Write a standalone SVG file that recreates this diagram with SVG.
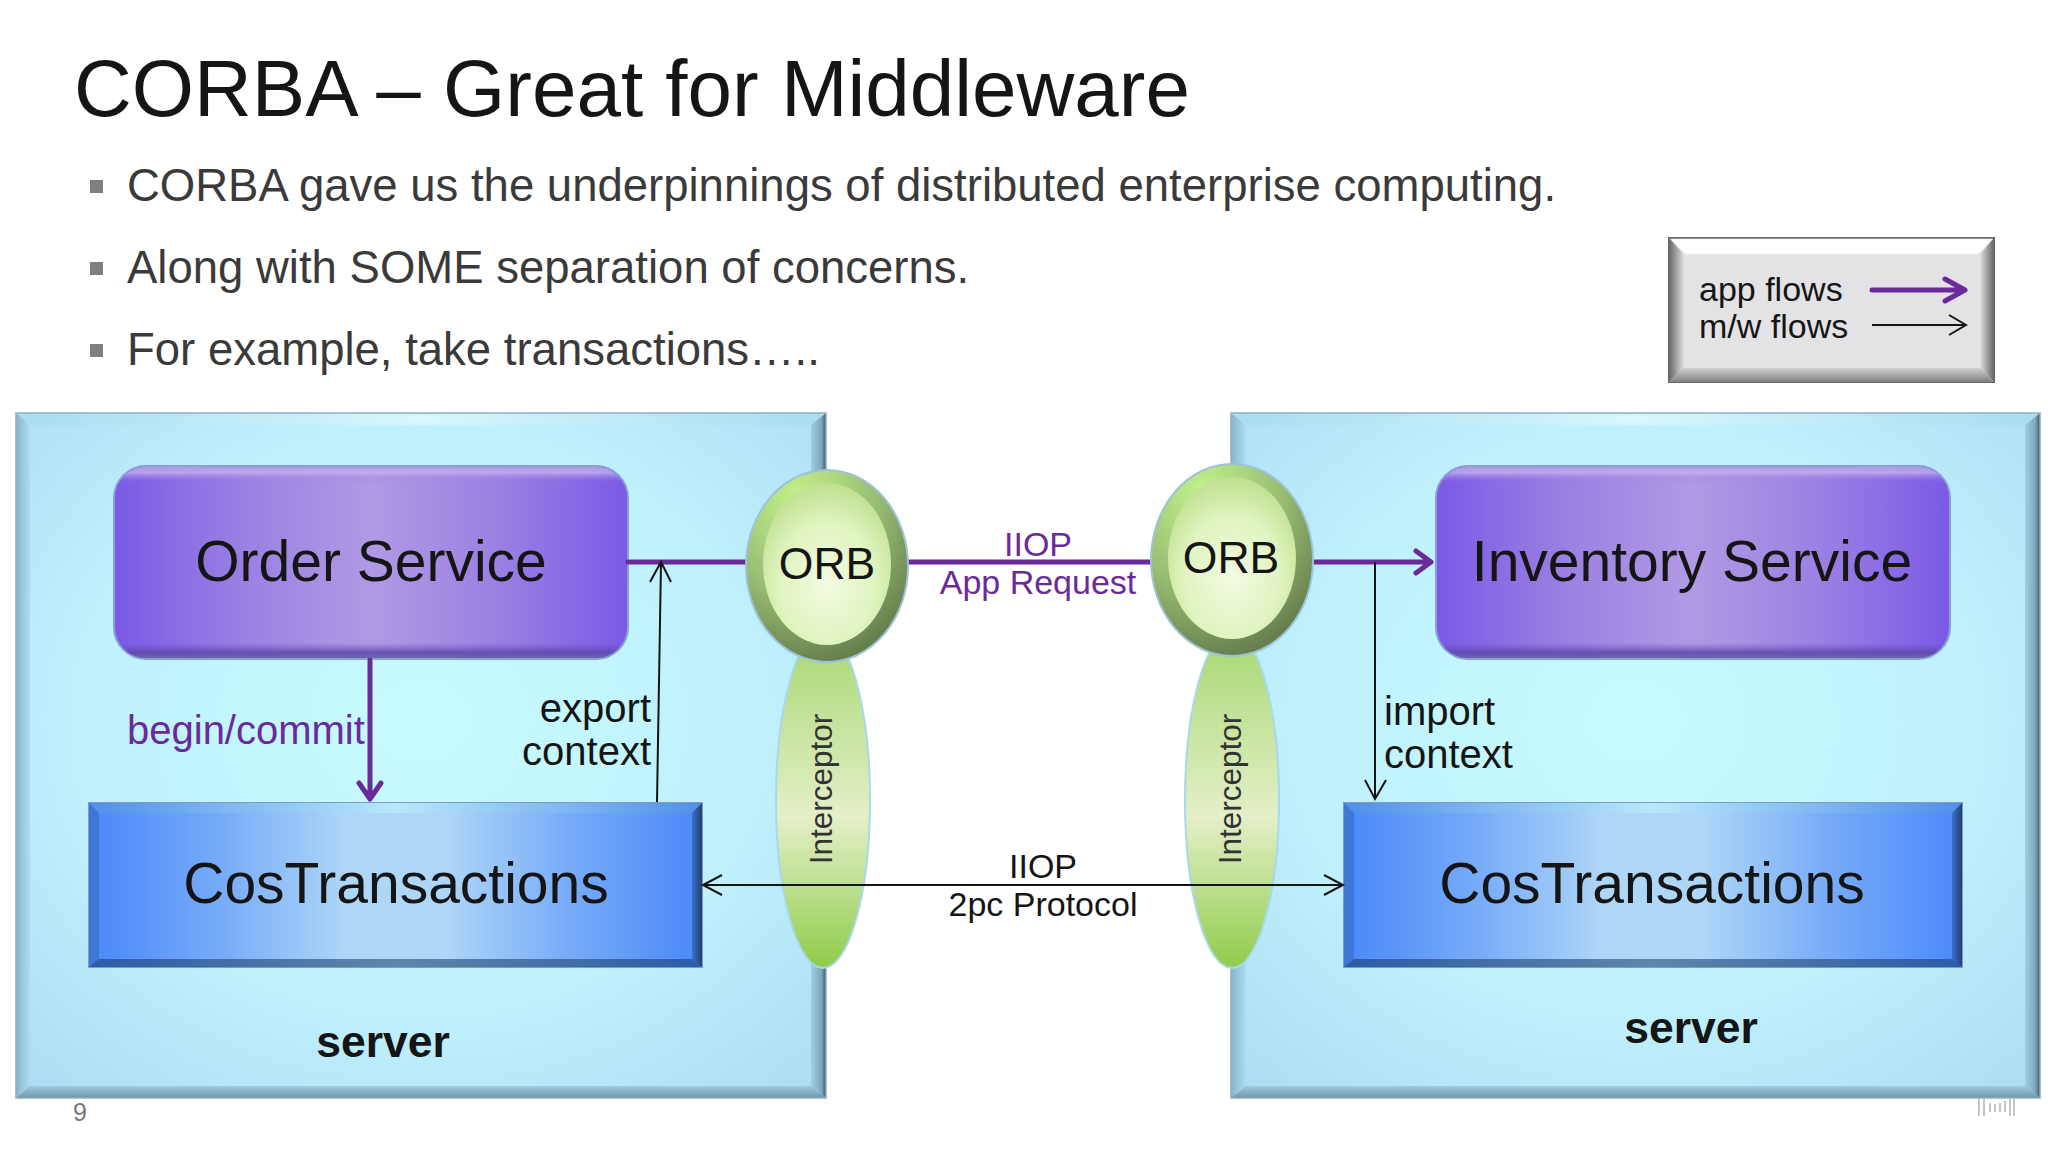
<svg xmlns="http://www.w3.org/2000/svg" width="2048" height="1152" viewBox="0 0 2048 1152">
<style>
text{font-family:"Liberation Sans",Arial,sans-serif;fill:#151515}
.m{text-anchor:middle}
.e{text-anchor:end}
.p{fill:#6b2a9a}
.blt{font-size:45.5px;fill:#3a3a3a}
.svc{font-size:57px}
.lb{font-size:40px}
.srv{font-size:44.5px;font-weight:bold}
.orb{font-size:44.5px}
.ic{font-size:31.5px;fill:#333}
.pl{fill:none;stroke:#6b2a9a;stroke-width:5;stroke-linecap:round;stroke-linejoin:round}
.bk{fill:none;stroke:#151515;stroke-width:2}
.sq{fill:#7f7f7f}
.soft{filter:url(#blur)}
</style>
<defs>
<filter id="blur" x="-5%" y="-5%" width="110%" height="110%"><feGaussianBlur stdDeviation="1"/></filter>
<radialGradient id="srvR" cx=".5" cy=".45" r=".72"><stop offset="0" stop-color="#c8fcff"/><stop offset=".6" stop-color="#bff0fc"/><stop offset="1" stop-color="#aedcf4"/></radialGradient>
<linearGradient id="svcG" x1="0" x2="1" y1="0" y2="0"><stop offset="0" stop-color="#7a5ae6"/><stop offset=".25" stop-color="#9a80e2"/><stop offset=".5" stop-color="#b09ae4"/><stop offset=".75" stop-color="#9a80e2"/><stop offset="1" stop-color="#7a5ae6"/></linearGradient>
<linearGradient id="svcE" x1="0" x2="0" y1="0" y2="1"><stop offset="0" stop-color="#a99ce0"/><stop offset=".03" stop-color="#c4b2f0" stop-opacity=".8"/><stop offset=".08" stop-color="#8f70e2" stop-opacity="0"/><stop offset=".92" stop-color="#6f4fc4" stop-opacity="0"/><stop offset=".97" stop-color="#5a43a8" stop-opacity=".8"/><stop offset="1" stop-color="#6a6aa8"/></linearGradient>
<linearGradient id="cosG" x1="0" x2="1" y1="0" y2="0"><stop offset="0" stop-color="#4a88fa"/><stop offset=".22" stop-color="#78acf8"/><stop offset=".42" stop-color="#aed6f6"/><stop offset=".58" stop-color="#aed6f6"/><stop offset=".78" stop-color="#78acf8"/><stop offset="1" stop-color="#4a88fa"/></linearGradient>
<linearGradient id="cT" x1="0" x2="1" y1="0" y2="0"><stop offset="0" stop-color="#4f8fe8"/><stop offset=".5" stop-color="#b8e8fb"/><stop offset="1" stop-color="#4f8fe8"/></linearGradient>
<linearGradient id="cB" x1="0" x2="1" y1="0" y2="0"><stop offset="0" stop-color="#2b5ba8"/><stop offset=".5" stop-color="#5f86aa"/><stop offset="1" stop-color="#2b5ba8"/></linearGradient>
<radialGradient id="orbO" cx=".32" cy=".15" r="1"><stop offset="0" stop-color="#c2f28c"/><stop offset=".5" stop-color="#97bc72"/><stop offset="1" stop-color="#566a40"/></radialGradient>
<radialGradient id="orbI" cx=".5" cy=".62" r=".62"><stop offset="0" stop-color="#f2fbe2"/><stop offset=".6" stop-color="#e0f4c0"/><stop offset="1" stop-color="#bfe08f"/></radialGradient>
<linearGradient id="icG" x1="0" x2="0" y1="0" y2="1"><stop offset="0" stop-color="#a6d872"/><stop offset=".55" stop-color="#e4efc8"/><stop offset="1" stop-color="#8fcc4a"/></linearGradient>
<linearGradient id="lgG" x1="0" x2="1" y1="0" y2="0"><stop offset="0" stop-color="#666"/><stop offset="1" stop-color="#e0e0e0"/></linearGradient>
<linearGradient id="lgR" x1="0" x2="1" y1="0" y2="0"><stop offset="0" stop-color="#e0e0e0"/><stop offset="1" stop-color="#666"/></linearGradient>
<linearGradient id="lgB" x1="0" x2="0" y1="0" y2="1"><stop offset="0" stop-color="#cfcfcf"/><stop offset="1" stop-color="#808080"/></linearGradient>
<linearGradient id="sT" x1="0" x2="1" y1="0" y2="0"><stop offset="0" stop-color="#a8dcf0"/><stop offset=".5" stop-color="#d8f8fd"/><stop offset="1" stop-color="#a8dcf0"/></linearGradient>
<linearGradient id="sL" x1="0" x2="1" y1="0" y2="0"><stop offset="0" stop-color="#8ab4c8"/><stop offset="1" stop-color="#aedcf2"/></linearGradient>
<linearGradient id="sR" x1="0" x2="1" y1="0" y2="0"><stop offset="0" stop-color="#a0cfe4"/><stop offset=".7" stop-color="#7fa5b8"/><stop offset="1" stop-color="#3f5560"/></linearGradient>
<linearGradient id="sB" x1="0" x2="0" y1="0" y2="1"><stop offset="0" stop-color="#a0cbe0"/><stop offset="1" stop-color="#6f95aa"/></linearGradient>
<linearGradient id="cR" x1="0" x2="1" y1="0" y2="0"><stop offset="0" stop-color="#3a6fd0"/><stop offset="1" stop-color="#24406e"/></linearGradient>
</defs>
<rect width="2048" height="1152" fill="#fff"/>

<g id="title">
<text x="74" y="116" font-size="80">CORBA – Great for Middleware</text>
<rect class="sq" x="90" y="180" width="13" height="13"/>
<text class="blt" x="127" y="201">CORBA gave us the underpinnings of distributed enterprise computing.</text>
<rect class="sq" x="90" y="262" width="13" height="13"/>
<text class="blt" x="127" y="283">Along with SOME separation of concerns.</text>
<rect class="sq" x="90" y="344" width="13" height="13"/>
<text class="blt" x="127" y="365">For example, take transactions…..</text>
</g>

<g id="legend">
<rect x="1669" y="238" width="325" height="144" fill="#e3e3e5" stroke="#666" stroke-width="2"/>
<polygon class="soft" points="1670,239 1993,239 1979,254 1684,254" fill="#fff"/>
<polygon points="1669,238 1684,254 1684,368 1669,382" fill="url(#lgG)"/>
<polygon points="1994,238 1980,254 1980,368 1994,382" fill="url(#lgR)"/>
<polygon points="1669,382 1684,368 1980,368 1994,382" fill="url(#lgB)"/>
<text x="1699" y="301" font-size="34">app flows</text>
<text x="1699" y="338" font-size="34">m/w flows</text>
</g>

<g id="server-left">
<rect x="16" y="413" width="810" height="685" fill="url(#srvR)"/>
<polygon class="soft" points="16,414 825,414 811,425 30,425" fill="url(#sT)"/>
<polygon points="16,413 30,425 30,1086 16,1098" fill="url(#sL)"/>
<polygon points="826,413 811,425 811,1086 826,1098" fill="url(#sR)"/>
<polygon points="16,1098 30,1086 811,1086 826,1098" fill="url(#sB)"/>
<rect x="16" y="413" width="810" height="685" fill="none" stroke="#8fb0c0" stroke-width="1.5"/>
<text class="srv m" x="383" y="1057">server</text>
</g>

<g id="server-right">
<rect x="1231" y="413" width="809" height="685" fill="url(#srvR)"/>
<polygon class="soft" points="1231,414 2039,414 2025,425 1246,425" fill="url(#sT)"/>
<polygon points="1231,413 1246,425 1246,1086 1231,1098" fill="url(#sL)"/>
<polygon points="2040,413 2025,425 2025,1086 2040,1098" fill="url(#sR)"/>
<polygon points="1231,1098 1246,1086 2025,1086 2040,1098" fill="url(#sB)"/>
<rect x="1231" y="413" width="809" height="685" fill="none" stroke="#8fb0c0" stroke-width="1.5"/>
<text class="srv m" x="1691" y="1043">server</text>
</g>

<g id="order-service">
<rect x="114" y="466" width="514" height="193" rx="32" fill="url(#svcG)" stroke="#8a9fd8" stroke-width="2"/>
<rect x="115" y="467" width="512" height="191" rx="31" fill="url(#svcE)"/>
<text class="svc m" x="371" y="581">Order Service</text>
</g>

<g id="inventory-service">
<rect x="1436" y="466" width="514" height="193" rx="32" fill="url(#svcG)" stroke="#8a9fd8" stroke-width="2"/>
<rect x="1437" y="467" width="512" height="191" rx="31" fill="url(#svcE)"/>
<text class="svc m" x="1692" y="581">Inventory Service</text>
</g>

<g id="cos-left">
<rect x="89" y="803" width="613" height="164" fill="url(#cosG)" stroke="#7f9cbc" stroke-width="2"/>
<polygon points="89,803 702,803 692,813 99,813" fill="url(#cT)"/>
<polygon points="89,803 99,813 99,959 89,967" fill="#3f78d4"/>
<polygon points="702,803 692,813 692,959 702,967" fill="url(#cR)"/>
<polygon points="89,967 99,959 692,959 702,967" fill="url(#cB)"/>
<text class="svc m" x="396" y="903">CosTransactions</text>
</g>

<g id="cos-right">
<rect x="1344" y="803" width="618" height="164" fill="url(#cosG)" stroke="#7f9cbc" stroke-width="2"/>
<polygon points="1344,803 1962,803 1952,813 1354,813" fill="url(#cT)"/>
<polygon points="1344,803 1354,813 1354,959 1344,967" fill="#3f78d4"/>
<polygon points="1962,803 1952,813 1952,959 1962,967" fill="url(#cR)"/>
<polygon points="1344,967 1354,959 1952,959 1962,967" fill="url(#cB)"/>
<text class="svc m" x="1652" y="903">CosTransactions</text>
</g>

<g id="interceptor-left">
<ellipse cx="823" cy="800" rx="47" ry="168" fill="url(#icG)" stroke="#a9d8e8" stroke-width="2"/>
<text class="ic m" transform="translate(832 789) rotate(-90)">Interceptor</text>
</g>

<g id="interceptor-right">
<ellipse cx="1232" cy="800" rx="47" ry="168" fill="url(#icG)" stroke="#a9d8e8" stroke-width="2"/>
<text class="ic m" transform="translate(1241 789) rotate(-90)">Interceptor</text>
</g>

<g id="connectors">
<path class="pl" d="M628 562H746"/>
<path class="pl" d="M908 562H1150"/>
<path class="pl" d="M1313 562H1431M1416 551L1431 562L1416 573"/>
<path class="pl" d="M370 660V799M359 783L370 799L381 783"/>
<path class="bk" d="M657 802L661 562M650 582L661 562L671 582"/>
<path class="bk" d="M1375 562V799M1365 780L1375 799L1386 780"/>
<path class="bk" d="M703 885H1343M722 875L703 885L722 895M1324 875L1343 885L1324 895"/>
<path class="pl" d="M1872 290H1965M1945 279L1965 290L1945 301"/>
<path class="bk" d="M1872 325H1966M1949 315L1966 325L1949 335"/>
</g>

<g id="orb-left">
<ellipse cx="827" cy="566" rx="81" ry="96" fill="url(#orbO)" stroke="#9dc3d8" stroke-width="2"/>
<ellipse cx="827" cy="564" rx="64" ry="81" fill="url(#orbI)"/>
<text class="orb m" x="827" y="579">ORB</text>
</g>

<g id="orb-right">
<ellipse cx="1232" cy="560" rx="81" ry="96" fill="url(#orbO)" stroke="#9dc3d8" stroke-width="2"/>
<ellipse cx="1232" cy="558" rx="64" ry="81" fill="url(#orbI)"/>
<text class="orb m" x="1231" y="573">ORB</text>
</g>

<g id="labels">
<text class="p m" x="1038" y="556" font-size="34">IIOP</text>
<text class="p m" x="1038" y="594" font-size="34">App Request</text>
<text class="p lb" x="127" y="744">begin/commit</text>
<text class="lb e" x="651" y="722">export</text>
<text class="lb e" x="651" y="765">context</text>
<text class="lb" x="1384" y="725">import</text>
<text class="lb" x="1384" y="768">context</text>
<text class="m" x="1043" y="878" font-size="34">IIOP</text>
<text class="m" x="1043" y="916" font-size="34">2pc Protocol</text>
<text x="73" y="1121" font-size="25" style="fill:#777">9</text>
</g>

<g id="logo" stroke="#c4c4c4" stroke-width="2">
<path d="M1979 1099V1116M1984 1099V1116M1990 1103V1112M1995 1104V1112M2000 1103V1112M2005 1101V1112M2010 1099V1116M2014 1099V1116"/>
</g>
</svg>
